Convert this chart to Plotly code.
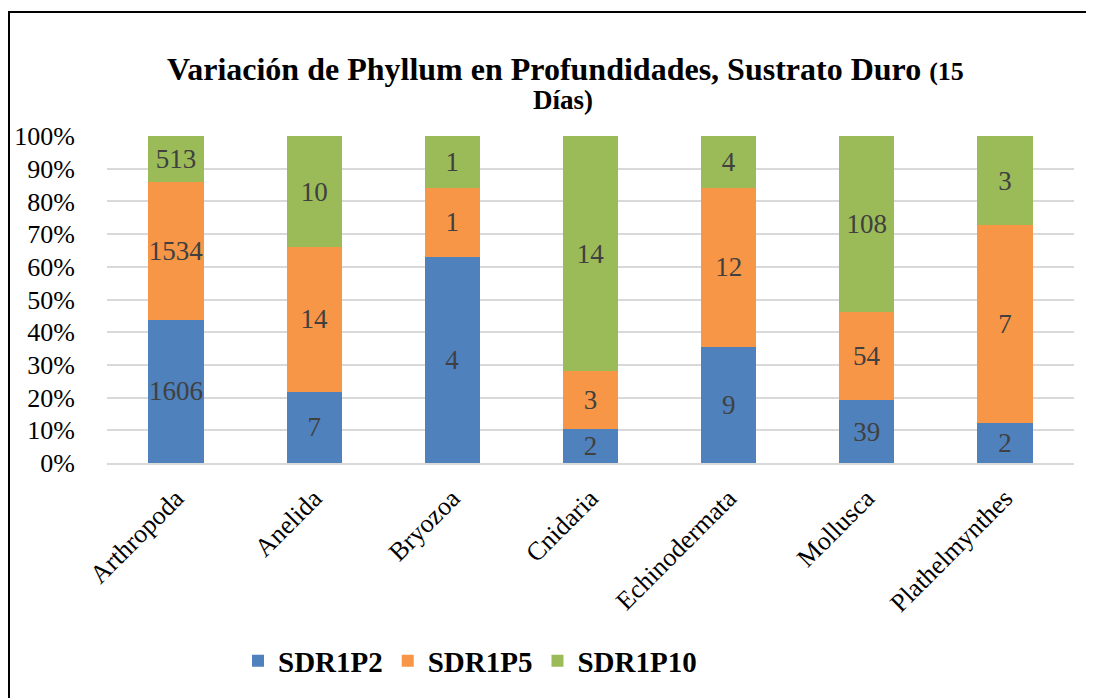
import plotly.graph_objects as go

categories = ["Arthropoda", "Anelida", "Bryozoa", "Cnidaria", "Echinodermata", "Mollusca", "Plathelmynthes"]
series_names = ["SDR1P2", "SDR1P5", "SDR1P10"]

# Shares (%)
pct_p2 = [43.8, 21.8, 62.9, 10.4, 35.6, 19.2, 12.3]
pct_p5 = [42.1, 44.2, 21.3, 17.7, 48.6, 26.9, 60.4]
pct_p10 = [14.1, 34.0, 15.8, 71.9, 15.8, 53.9, 27.3]

# Data labels (counts) shown inside the segments
lbl_p2 = ["1606", "7", "4", "2", "9", "39", "2"]
lbl_p5 = ["1534", "14", "1", "3", "12", "54", "7"]
lbl_p10 = ["513", "10", "1", "14", "4", "108", "3"]

y_ticks = [0, 10, 20, 30, 40, 50, 60, 70, 80, 90, 100]
y_tick_text = ["0%", "10%", "20%", "30%", "40%", "50%", "60%", "70%", "80%", "90%", "100%"]

colors = ["#4f81bd", "#f79646", "#9bbb59"]
SERIF = "Liberation Serif"

fig = go.Figure()
for name, vals, lbls, col in zip(series_names, [pct_p2, pct_p5, pct_p10],
                                 [lbl_p2, lbl_p5, lbl_p10], colors):
    fig.add_trace(go.Bar(
        name=f"<b>{name}</b>", x=categories, y=vals, text=lbls,
        marker=dict(color=col, line=dict(width=0)),
        textposition="inside", insidetextanchor="middle", textangle=0,
        constraintext="none",
        textfont=dict(family=SERIF, size=27, color="#404040"),
        hoverinfo="skip",
    ))

OFF = 8  # page body margin
W, H = 1094 - OFF, 698 - OFF
ml, mr, mt, mb = 107 - OFF, 20, 136 - OFF, 235

def px_to_paper_x(px):
    return (px - OFF - ml) / (W - ml - mr)

def px_to_paper_y(py):
    return (H - mb - (py - OFF)) / (H - mt - mb)

fig.update_layout(
    width=W, height=H,
    margin=dict(l=ml, r=mr, t=mt, b=mb, pad=0, autoexpand=False),
    paper_bgcolor="white", plot_bgcolor="white",
    barmode="stack", bargap=0.6,
    font=dict(family=SERIF, color="black"),
    showlegend=True,
    legend=dict(
        orientation="h", x=px_to_paper_x(238), xanchor="left",
        y=px_to_paper_y(661), yanchor="middle",
        font=dict(family=SERIF, size=29, color="black"),
        itemwidth=30, traceorder="normal",
    ),
    xaxis=dict(
        tickangle=-45, tickfont=dict(family=SERIF, size=26, color="black"),
        showline=True, linecolor="#d9d9d9", linewidth=1.5,
        ticks="outside", ticklen=8, tickcolor="rgba(0,0,0,0)", showgrid=False,
    ),
    yaxis=dict(
        range=[0, 100], tickmode="array", tickvals=y_ticks, ticktext=y_tick_text,
        tickfont=dict(family=SERIF, size=26, color="black"),
        showgrid=True, gridcolor="#d9d9d9", gridwidth=1.5,
        zeroline=False, showline=False,
        ticks="outside", ticklen=26, tickcolor="rgba(0,0,0,0)",
    ),
)

# Title (two lines, as in the reference)
fig.add_annotation(
    xref="paper", yref="paper", x=px_to_paper_x(565), y=px_to_paper_y(69),
    xanchor="center", yanchor="middle", showarrow=False,
    text="<b>Variación de Phyllum en Profundidades, Sustrato Duro <span style='font-size:26px'>(15</span></b>",
    font=dict(family=SERIF, size=32, color="black"),
)
fig.add_annotation(
    xref="paper", yref="paper", x=px_to_paper_x(563), y=px_to_paper_y(100),
    xanchor="center", yanchor="middle", showarrow=False,
    text="<b>Días)</b>",
    font=dict(family=SERIF, size=27, color="black"),
)

# Chart frame
fig.add_shape(
    type="rect", xref="paper", yref="paper",
    x0=px_to_paper_x(9), x1=px_to_paper_x(1120),
    y0=px_to_paper_y(720), y1=px_to_paper_y(12),
    line=dict(color="black", width=2), fillcolor="rgba(0,0,0,0)", layer="above",
)

fig.write_html("out.html")
